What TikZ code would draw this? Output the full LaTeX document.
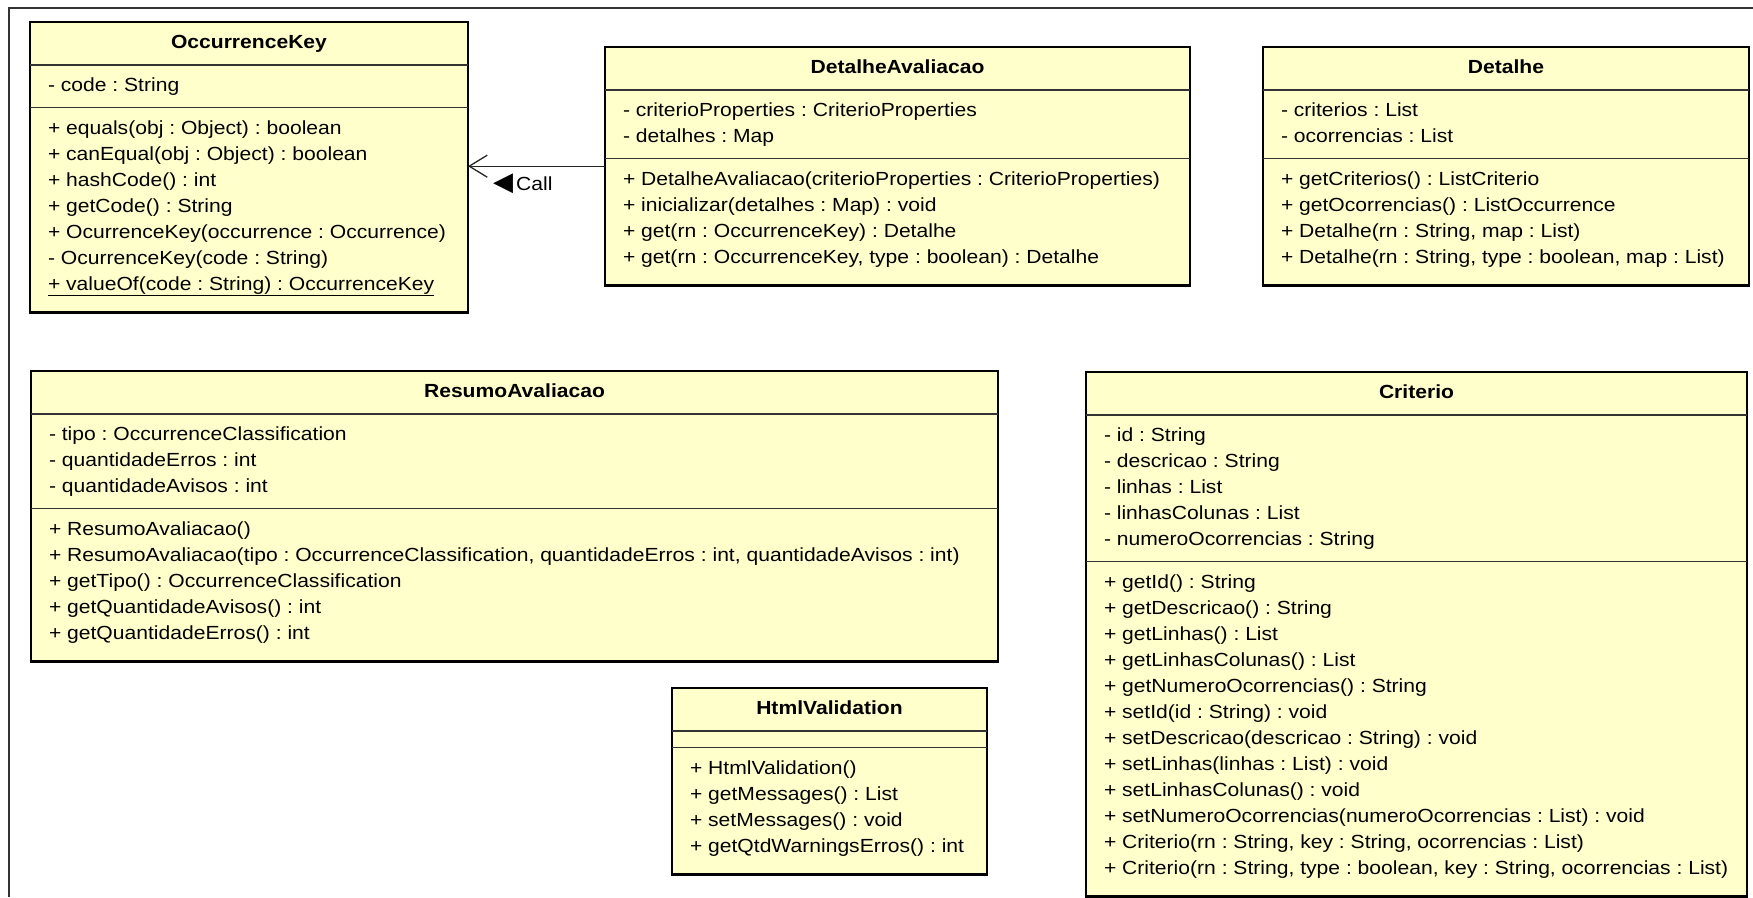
\documentclass[tikz,border=0pt]{standalone}
\usepackage{fontspec}
\setmainfont[FakeStretch=1.11]{Liberation Sans}
\newfontfamily\symfont{DejaVu Sans}
\usepackage{xcolor}
\usepackage{tikz}
\usetikzlibrary{shapes,arrows,positioning,calc,arrows.meta}
\definecolor{classfill}{HTML}{FFFFCC}
\frenchspacing
\newcommand{\cname}[1]{\strut\textbf{#1}}
\newcommand{\attrs}[1]{\begin{tabular}{@{}l@{}}#1\end{tabular}}
\newcommand{\opers}[1]{\begin{tabular}{@{}l@{}}#1\\[6pt]\end{tabular}}
\newcommand{\noattrs}{\hbox to 1pt{}}

\begin{document}
\begin{tikzpicture}[x=1pt,y=-1pt,
    umlclass/.style={rectangle split, rectangle split parts=3,
        rectangle split part align={center,left,left},
        rectangle split draw splits=false,
        draw=black, line width=2.8pt, fill=classfill,
        inner xsep=18pt, inner ysep=7pt, outer sep=0pt,
        anchor=north west, font=\fontsize{19}{26}\selectfont},
    splitline/.style={draw=black!80, line width=1.6pt},
    calls/.style={draw=black!85, line width=1.3pt,
        -{Straight Barb[length=18pt,width=22pt]}},
    frameline/.style={draw=black!80, line width=1.5pt}]
    \useasboundingbox (0,0) rectangle (1753,897);

    % Frame
    \coordinate (frameBL) at (9,897);
    \coordinate (frameTL) at (9,8);
    \coordinate (frameTR) at (1753,8);
    \draw[frameline] (frameBL) -- (frameTL) -- (frameTR);

    % Top row
    \node[umlclass, minimum width=438pt] (okey) at (30,22) {\cname{OccurrenceKey}
        \nodepart{two}\attrs{- code : String}
        \nodepart{three}\opers{+ equals(obj : Object) : boolean\\
            + canEqual(obj : Object) : boolean\\
            + hashCode() : int\\
            + getCode() : String\\
            + OcurrenceKey(occurrence : Occurrence)\\
            - OcurrenceKey(code : String)\\
            \underline{+ valueOf(code : String) : OccurrenceKey}}};

    \node[umlclass, minimum width=585pt] (davl) at (605,47) {\cname{DetalheAvaliacao}
        \nodepart{two}\attrs{- criterioProperties : CriterioProperties\\
            - detalhes : Map}
        \nodepart{three}\opers{+ DetalheAvaliacao(criterioProperties : CriterioProperties)\\
            + inicializar(detalhes : Map) : void\\
            + get(rn : OccurrenceKey) : Detalhe\\
            + get(rn : OccurrenceKey, type : boolean) : Detalhe}};

    \node[umlclass, minimum width=486pt] (det) at (1263,47) {\cname{Detalhe}
        \nodepart{two}\attrs{- criterios : List\\
            - ocorrencias : List}
        \nodepart{three}\opers{+ getCriterios() : ListCriterio\\
            + getOcorrencias() : ListOccurrence\\
            + Detalhe(rn : String, map : List)\\
            + Detalhe(rn : String, type : boolean, map : List)}};

    % Bottom row
    \node[umlclass, minimum width=967pt] (resumo) at (31,371) {\cname{ResumoAvaliacao}
        \nodepart{two}\attrs{- tipo : OccurrenceClassification\\
            - quantidadeErros : int\\
            - quantidadeAvisos : int}
        \nodepart{three}\opers{+ ResumoAvaliacao()\\
            + ResumoAvaliacao(tipo : OccurrenceClassification, quantidadeErros : int, quantidadeAvisos : int)\\
            + getTipo() : OccurrenceClassification\\
            + getQuantidadeAvisos() : int\\
            + getQuantidadeErros() : int}};

    \node[umlclass, minimum width=315pt] (html) at (672,688) {\cname{HtmlValidation}
        \nodepart{two}\noattrs
        \nodepart{three}\opers{+ HtmlValidation()\\
            + getMessages() : List\\
            + setMessages() : void\\
            + getQtdWarningsErros() : int}};

    \node[umlclass, minimum width=661pt] (crit) at (1086,372) {\cname{Criterio}
        \nodepart{two}\attrs{- id : String\\
            - descricao : String\\
            - linhas : List\\
            - linhasColunas : List\\
            - numeroOcorrencias : String}
        \nodepart{three}\opers{+ getId() : String\\
            + getDescricao() : String\\
            + getLinhas() : List\\
            + getLinhasColunas() : List\\
            + getNumeroOcorrencias() : String\\
            + setId(id : String) : void\\
            + setDescricao(descricao : String) : void\\
            + setLinhas(linhas : List) : void\\
            + setLinhasColunas() : void\\
            + setNumeroOcorrencias(numeroOcorrencias : List) : void\\
            + Criterio(rn : String, key : String, ocorrencias : List)\\
            + Criterio(rn : String, type : boolean, key : String, ocorrencias : List)}};

    % Compartment lines
    \foreach \c in {okey,davl,det,resumo,html,crit}
        \draw[splitline] (\c.text split west) -- (\c.text split east)
            (\c.two split west) -- (\c.two split east);

    % Call
    \draw[calls] (davl.west) -- (okey.east |- davl.west)
        node[pos=0.6, below=7pt, inner sep=0pt, font=\fontsize{19}{26}\selectfont]
        (calllbl) {{\symfont\fontsize{26}{26}\selectfont ◀}\,Call};
\end{tikzpicture}
\end{document}
